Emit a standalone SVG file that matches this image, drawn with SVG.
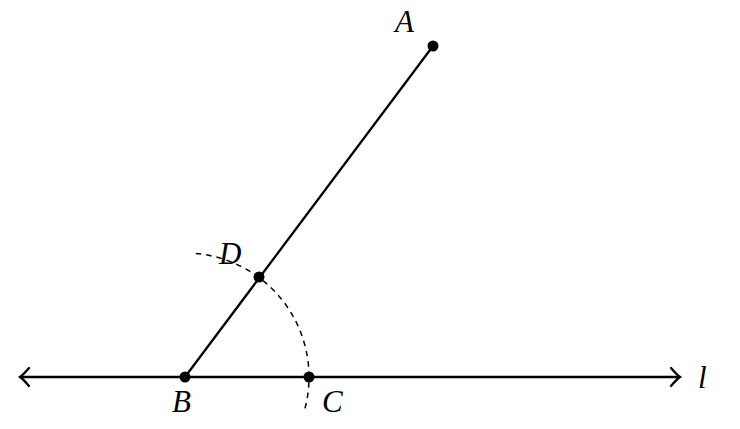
<svg xmlns="http://www.w3.org/2000/svg" width="740" height="429" viewBox="0 0 740 429">
<style>
.ln{stroke:#000;stroke-width:2.3;fill:none;stroke-linecap:round}
.ds{stroke:#000;stroke-width:1.5;fill:none;stroke-dasharray:5.5 5}
.pt{fill:#000}
.lb{font-family:"Liberation Serif",serif;font-style:italic;font-size:31px;fill:#000}
</style>
<g id="connectors">
<path class="ln" d="M21 377 H679"/>
<path class="ln" d="M29 368 Q23 375 20 377 Q23 379 29 386"/>
<path class="ln" d="M671 368 Q677 375 680 377 Q677 379 671 386"/>
<path class="ln" d="M185 377 L433 46"/>
<path class="ds" d="M195.8 253.5 A124 124 0 0 1 304.8 409.1"/>
</g>
<g id="A"><circle class="pt" cx="433" cy="46" r="5.5"/><text class="lb" x="395" y="32">A</text></g>
<g id="B"><circle class="pt" cx="185" cy="377" r="5.5"/><text class="lb" x="172" y="412">B</text></g>
<g id="C"><circle class="pt" cx="309" cy="377" r="5.5"/><text class="lb" x="322" y="412">C</text></g>
<g id="D"><circle class="pt" cx="259" cy="277" r="5.5"/><text class="lb" x="219" y="264">D</text></g>
<g id="l"><text class="lb" x="698" y="388">l</text></g>
</svg>
